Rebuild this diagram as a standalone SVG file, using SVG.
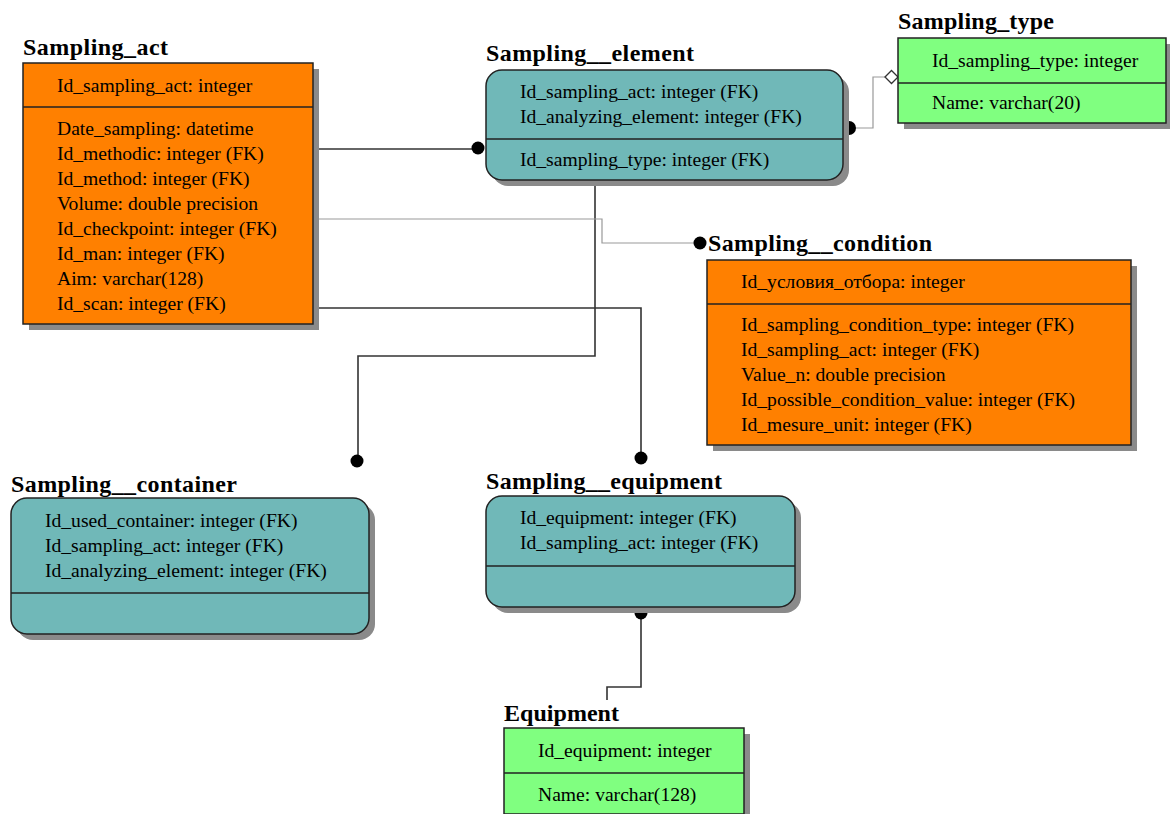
<svg xmlns="http://www.w3.org/2000/svg" width="1170" height="814" viewBox="0 0 1170 814">
<style>
.t{font-family:"Liberation Serif","Times New Roman",serif;font-size:24px;font-weight:bold;fill:#000}
.f{font-family:"Liberation Serif","Times New Roman",serif;font-size:19.6px;fill:#000}
.org{fill:#FF8000;stroke:#222;stroke-width:1.5}
.teal{fill:#70B8B8;stroke:#222;stroke-width:1.5}
.grn{fill:#80FF80;stroke:#222;stroke-width:1.5}
.sh{fill:#8a8a8a}
.div{stroke:#222;stroke-width:1.5}
.blk{fill:none;stroke:#333;stroke-width:1.6}
.gry{fill:none;stroke:#999;stroke-width:1.2}
.dot{fill:#000}
</style>
<rect width="1170" height="814" fill="#fff"/>
<g id="connectors">
  <path class="blk" d="M313,149 H478"/>
  <circle class="dot" cx="478" cy="148" r="6.5"/>
  <path class="blk" d="M313,308 H641 V458"/>
  <circle class="dot" cx="641" cy="458" r="6.5"/>
  <path class="blk" d="M595,180 V356 H358 V461"/>
  <circle class="dot" cx="357" cy="461" r="6.5"/>
  <path class="blk" d="M641,613 V687 H607 V700"/>
  <circle class="dot" cx="641" cy="613" r="6.5"/>
  <path class="gry" d="M313,219 H602 V243 H699"/>
  <circle class="dot" cx="700" cy="243" r="6.5"/>
  <path class="gry" d="M849,128 H873 V77 H885"/>
  <circle class="dot" cx="849" cy="128" r="7"/>
  <path d="M885,77 L891.5,70.5 L898,77 L891.5,83.5 Z" fill="#fff" stroke="#333" stroke-width="1.3"/>
</g>
<g id="sampling_act">
  <text class="t" x="23" y="55" textLength="145" lengthAdjust="spacing">Sampling_act</text>
  <rect class="sh" x="29" y="69" width="290" height="261"/>
  <rect class="org" x="23" y="63" width="290" height="261"/>
  <line class="div" x1="23" y1="107" x2="313" y2="107"/>
  <text class="f" x="57" y="92">Id_sampling_act: integer</text>
  <text class="f" x="57" y="135">Date_sampling: datetime</text>
  <text class="f" x="57" y="160">Id_methodic: integer (FK)</text>
  <text class="f" x="57" y="185">Id_method: integer (FK)</text>
  <text class="f" x="57" y="210">Volume: double precision</text>
  <text class="f" x="57" y="235">Id_checkpoint: integer (FK)</text>
  <text class="f" x="57" y="260">Id_man: integer (FK)</text>
  <text class="f" x="57" y="285">Aim: varchar(128)</text>
  <text class="f" x="57" y="310">Id_scan: integer (FK)</text>
</g>
<g id="sampling_element">
  <text class="t" x="486" y="61" textLength="208" lengthAdjust="spacing">Sampling__element</text>
  <rect class="sh" x="492" y="76" width="357" height="110" rx="16"/>
  <rect class="teal" x="486" y="70" width="357" height="110" rx="16"/>
  <line class="div" x1="486" y1="139" x2="843" y2="139"/>
  <text class="f" x="520" y="98">Id_sampling_act: integer (FK)</text>
  <text class="f" x="520" y="123">Id_analyzing_element: integer (FK)</text>
  <text class="f" x="520" y="166">Id_sampling_type: integer (FK)</text>
</g>
<g id="sampling_type">
  <text class="t" x="898" y="29" textLength="156" lengthAdjust="spacing">Sampling_type</text>
  <rect class="sh" x="904" y="44" width="268" height="85"/>
  <rect class="grn" x="898" y="38" width="268" height="85"/>
  <line class="div" x1="898" y1="83" x2="1166" y2="83"/>
  <text class="f" x="932" y="67">Id_sampling_type: integer</text>
  <text class="f" x="932" y="109">Name: varchar(20)</text>
</g>
<g id="sampling_condition">
  <text class="t" x="708" y="251" textLength="224" lengthAdjust="spacing">Sampling__condition</text>
  <rect class="sh" x="713" y="266" width="424" height="185"/>
  <rect class="org" x="707" y="260" width="424" height="185"/>
  <line class="div" x1="707" y1="304" x2="1131" y2="304"/>
  <text class="f" x="741" y="288">Id_условия_отбора: integer</text>
  <text class="f" x="741" y="331">Id_sampling_condition_type: integer (FK)</text>
  <text class="f" x="741" y="356">Id_sampling_act: integer (FK)</text>
  <text class="f" x="741" y="381">Value_n: double precision</text>
  <text class="f" x="741" y="406">Id_possible_condition_value: integer (FK)</text>
  <text class="f" x="741" y="431">Id_mesure_unit: integer (FK)</text>
</g>
<g id="sampling_container">
  <text class="t" x="11" y="492" textLength="226" lengthAdjust="spacing">Sampling__container</text>
  <rect class="sh" x="17" y="504" width="358" height="136" rx="16"/>
  <rect class="teal" x="11" y="498" width="358" height="136" rx="16"/>
  <line class="div" x1="11" y1="593" x2="369" y2="593"/>
  <text class="f" x="45" y="527">Id_used_container: integer (FK)</text>
  <text class="f" x="45" y="552">Id_sampling_act: integer (FK)</text>
  <text class="f" x="45" y="577">Id_analyzing_element: integer (FK)</text>
</g>
<g id="sampling_equipment">
  <text class="t" x="486" y="489" textLength="236" lengthAdjust="spacing">Sampling__equipment</text>
  <rect class="sh" x="492" y="502" width="309" height="111" rx="16"/>
  <rect class="teal" x="486" y="496" width="309" height="111" rx="16"/>
  <line class="div" x1="486" y1="566" x2="795" y2="566"/>
  <text class="f" x="520" y="524">Id_equipment: integer (FK)</text>
  <text class="f" x="520" y="549">Id_sampling_act: integer (FK)</text>
</g>
<g id="equipment">
  <text class="t" x="504" y="721" textLength="115" lengthAdjust="spacing">Equipment</text>
  <rect class="sh" x="510" y="734" width="240" height="86"/>
  <rect class="grn" x="504" y="728" width="240" height="86"/>
  <line class="div" x1="504" y1="773" x2="744" y2="773"/>
  <text class="f" x="538" y="757">Id_equipment: integer</text>
  <text class="f" x="538" y="801">Name: varchar(128)</text>
</g>
</svg>
